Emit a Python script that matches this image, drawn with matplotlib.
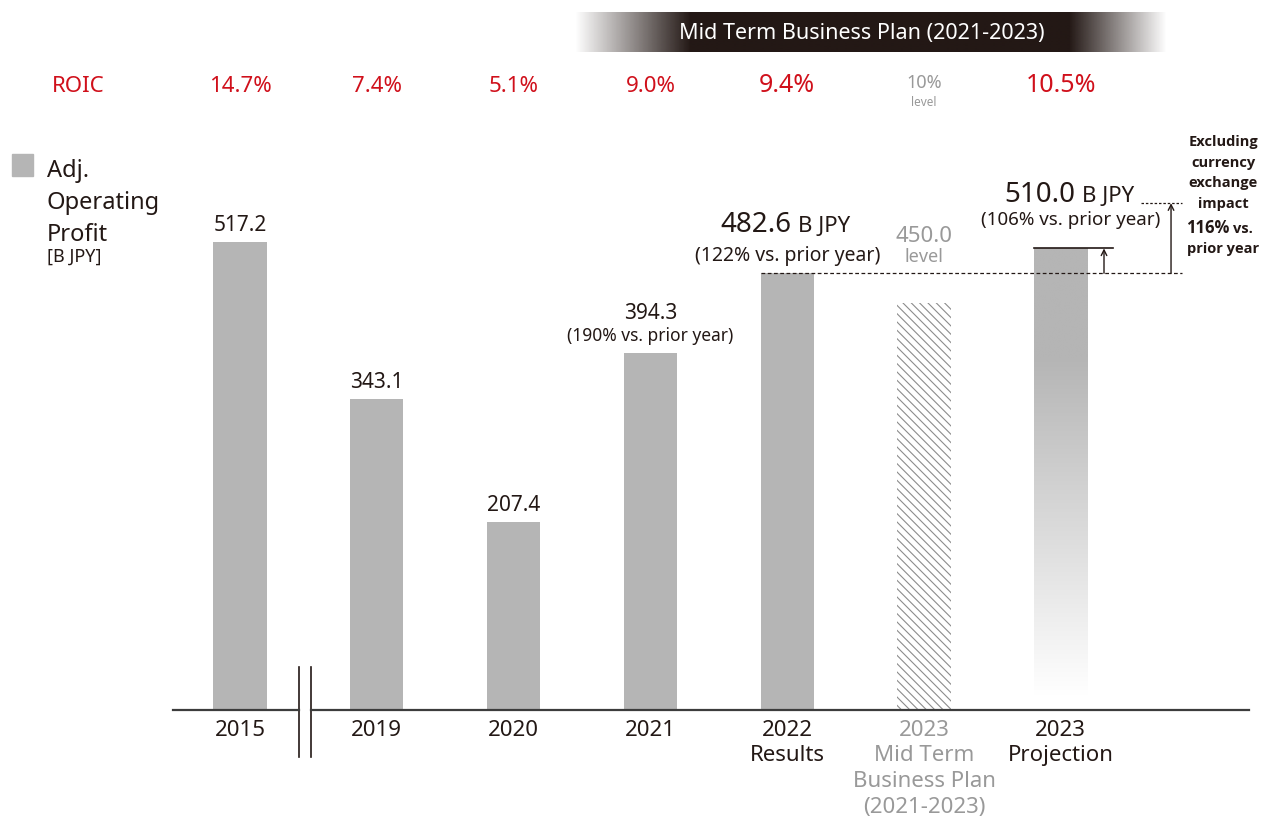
"""
Adj. operating profit and ROIC by fiscal year, with the 2023
mid-term plan target and the 2023 projection.
"""

import numpy as np
import matplotlib

matplotlib.use("Agg")

import matplotlib.pyplot as plt
import matplotlib.transforms as mtransforms
from matplotlib.colors import LinearSegmentedColormap
from matplotlib.patches import Rectangle

plt.rcParams["font.family"] = ["Noto Sans", "DejaVu Sans"]
plt.rcParams["hatch.linewidth"] = 0.8

YEARS = [
    "2015",
    "2019",
    "2020",
    "2021",
    "2022\nResults",
    "2023\nMid Term\nBusiness Plan\n(2021-2023)",
    "2023\nProjection",
]
PROFIT = [517.2, 343.1, 207.4, 394.3, 482.6, 450.0, 510.0]
ROIC = ["14.7%", "7.4%", "5.1%", "9.0%", "9.4%", "10%", "10.5%"]
YOY = {3: "190%", 4: "122%", 6: "106%"}
EXCL_FX = 560.0  # 116% of 2022 result
EXCL_FX_PCT = "116%"

DARK = "#231815"
GRAY_BAR = "#b5b5b5"
GRAY_TXT = "#999999"
RED = "#d0101b"
BOLD_FONT = ["Open Sans", "DejaVu Sans"]
W = 0.39

fig = plt.figure(figsize=(12.62, 8.16), dpi=100)
ax = fig.add_axes([173 / 1262, 106 / 816, 1076 / 1262, 543 / 816])
ax.patch.set_visible(False)
XLIM = (-0.49, 7.376)
YLIM = (0, 600)

# overlay in pixel coordinates for free-floating text
oax = fig.add_axes([0, 0, 1, 1])
oax.set_xlim(0, 1262)
oax.set_ylim(816, 0)
oax.axis("off")
oax.patch.set_visible(False)

x = np.arange(len(PROFIT))

# solid bars: results
ax.bar(x[:5], PROFIT[:5], W, color=GRAY_BAR, zorder=2)
# hatched bar: mid-term plan
ax.bar(x[5], PROFIT[5], W, color="white", edgecolor="#8c8c8c",
       linewidth=0, hatch="\\\\\\\\", zorder=2)
# gradient bar: projection (solid at the top, fading to white)
fade = LinearSegmentedColormap.from_list("fade", ["white", GRAY_BAR])
rows = np.linspace(PROFIT[6], 0, 300)
shade = np.interp(rows, [15, 390, PROFIT[6]], [0, 1, 1])[:, None]
ax.imshow(shade, cmap=fade, vmin=0, vmax=1,
          extent=(x[6] - W / 2, x[6] + W / 2, 0, PROFIT[6]),
          aspect="auto", zorder=2, interpolation="bilinear")
ax.set_xlim(*XLIM)
ax.set_ylim(*YLIM)

# baseline with axis break
bx = (0.431, 0.519)
ax.plot([XLIM[0], bx[0]], [0, 0], color="#3c3c3c", lw=1.6, zorder=3, clip_on=False)
ax.plot([bx[1], XLIM[1]], [0, 0], color="#3c3c3c", lw=1.6, zorder=3, clip_on=False)
for b in bx:
    ax.plot([b, b], [-52, 47], color=DARK, lw=1.2, clip_on=False)

for s in ax.spines.values():
    s.set_visible(False)
ax.set_yticks([])
ax.set_xticks(x)
ax.set_xticklabels(YEARS, fontsize=16, linespacing=1.29)
ax.tick_params(axis="x", length=0, pad=7)
for i, lab in enumerate(ax.get_xticklabels()):
    lab.set_color(GRAY_TXT if i == 5 else DARK)


def label(i, text, dy, dx=0, size=15, color=DARK, ha="center"):
    ax.annotate(text, xy=(x[i], PROFIT[i]), xytext=(dx, dy),
                textcoords="offset pixels", ha=ha, va="baseline",
                fontsize=size, color=color)


# value labels
for i in (0, 1, 2):
    label(i, f"{PROFIT[i]:.1f}", 11)
label(3, f"{PROFIT[3]:.1f}", 34)
label(3, f"({YOY[3]} vs. prior year)", 12, size=12.5)
label(4, f"{PROFIT[4]:.1f}", 41, dx=4, size=20, ha="right")
label(4, "B JPY", 41, dx=11, size=16, ha="left")
label(4, f"({YOY[4]} vs. prior year)", 12, size=14)
label(5, f"{PROFIT[5]:.1f}", 61, size=16, color=GRAY_TXT)
label(5, "level", 41, size=13, color=GRAY_TXT)
label(6, f"{PROFIT[6]:.1f}", 46, dx=15, size=20, ha="right")
label(6, "B JPY", 46, dx=21, size=16, ha="left")
label(6, f"({YOY[6]} vs. prior year)", 23, dx=10, size=13.5)

# reference lines and arrows for the projection
ax.plot([x[4] - W / 2, 6.886], [PROFIT[4]] * 2, color=DARK, lw=0.9,
        ls=(0, (3, 2)), zorder=4)
ax.plot([x[6] - W / 2, 6.382], [PROFIT[6]] * 2, color=DARK, lw=1.2, zorder=4)
ax.plot([6.586, 6.886], [EXCL_FX] * 2, color=DARK, lw=0.9, ls=(0, (2, 1.5)),
        zorder=4)
arrow = dict(arrowstyle="->", color=DARK, lw=1.0, shrinkA=0, shrinkB=0)
ax.annotate("", xy=(6.316, PROFIT[6]), xytext=(6.316, PROFIT[4]),
            arrowprops=arrow)
ax.annotate("", xy=(6.806, EXCL_FX), xytext=(6.806, PROFIT[4]),
            arrowprops=arrow)

# ROIC row
roic_tr = mtransforms.blended_transform_factory(ax.transData, oax.transData)
oax.text(78, 86, "ROIC", color=RED, fontsize=16, ha="center", va="center")
for i, r in enumerate(ROIC):
    if i == 5:
        ax.text(x[i], 83, r, transform=roic_tr, color=GRAY_TXT, fontsize=13,
                ha="center", va="center")
        ax.text(x[i], 102, "level", transform=roic_tr, color=GRAY_TXT,
                fontsize=8.5, ha="center", va="center")
    else:
        big = i in (4, 6)
        ax.text(x[i], 86, r, transform=roic_tr, color=RED,
                fontsize=18 if big else 16, ha="center", va="center")

# mid-term plan banner
cols = np.arange(575, 1168)
a = np.interp(cols, [575, 690, 1070, 1167], [0, 1, 1, 0])
banner = np.zeros((1, len(cols), 4))
banner[..., 0] = 0x23 / 255
banner[..., 1] = 0x18 / 255
banner[..., 2] = 0x15 / 255
banner[..., 3] = a
oax.imshow(banner, extent=(575, 1167, 52, 12), aspect="auto",
           interpolation="bilinear")
oax.set_xlim(0, 1262)
oax.set_ylim(816, 0)
oax.text(862, 33, "Mid Term Business Plan (2021-2023)", color="white",
         fontsize=15.5, ha="center", va="center")

# legend
oax.add_patch(Rectangle((12, 154), 21, 22, color=GRAY_BAR))
oax.text(47, 159, "Adj.\nOperating\nProfit", color=DARK, fontsize=17,
         ha="left", va="top", linespacing=1.45)
oax.text(47, 248, "[B JPY]", color=DARK, fontsize=13, ha="left", va="top")

# currency note
oax.text(1223, 135, "Excluding\ncurrency\nexchange\nimpact", color=DARK,
         fontsize=10.5, fontweight="bold", family=BOLD_FONT, ha="center",
         va="top", linespacing=1.6)
oax.text(1229, 233, EXCL_FX_PCT, color=DARK, fontsize=12, fontweight="bold",
         family=BOLD_FONT, ha="right", va="baseline")
oax.text(1233, 233, "vs.", color=DARK, fontsize=10.5, fontweight="bold",
         family=BOLD_FONT, ha="left", va="baseline")
oax.text(1223, 253, "prior year", color=DARK, fontsize=10.5,
         fontweight="bold", family=BOLD_FONT, ha="center", va="baseline")

fig.savefig("out.png", dpi=100)
